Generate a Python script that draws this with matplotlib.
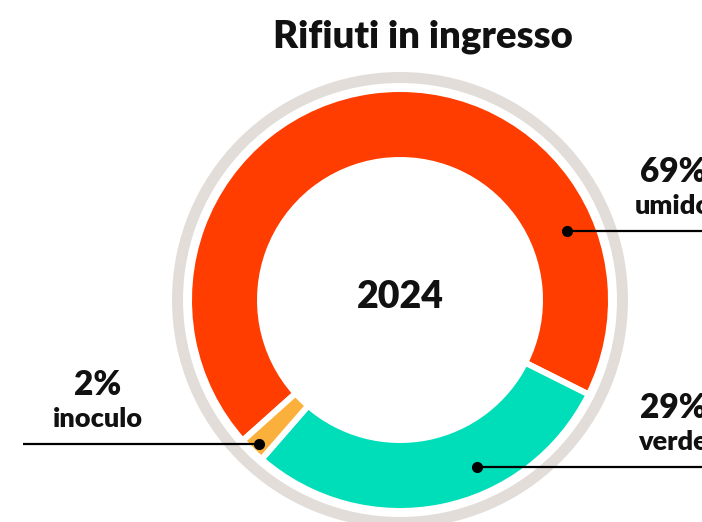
import matplotlib
matplotlib.use("Agg")
import matplotlib.pyplot as plt
from matplotlib.patches import Circle
import numpy as np

plt.rcParams['font.family'] = ['Lato', 'DejaVu Sans']

title = "Rifiuti in ingresso"
center_label = "2024"
categories = ["umido", "verde", "inoculo"]
values = [69, 29, 2]
pct_labels = ["69%", "29%", "2%"]
colors = ["#FF3D00", "#00DDB9", "#FBB03B"]

W, H = 702, 522
fig = plt.figure(figsize=(W / 100, H / 100), dpi=100)
ax = fig.add_axes([0, 0, 1, 1])

cx, cy = 400, H - 300
lw_px = 6
r_out = 208 + lw_px / 2
r_in = 143 - lw_px / 2

# outer grey ring
ax.add_patch(Circle((cx, cy), 222.5, fill=False, edgecolor="#E2DDD8", linewidth=11 * 0.72))

wedges, _ = ax.pie(values, colors=colors, startangle=221.8, counterclock=False,
                   radius=r_out, center=(cx, cy), frame=True,
                   wedgeprops=dict(width=r_out - r_in, edgecolor="white", linewidth=lw_px * 0.72))
ax.set_xlim(0, W)
ax.set_ylim(0, H)
ax.set_aspect('equal')
ax.axis('off')

ax.text(cx, cy + 3, center_label, ha='center', va='center', fontsize=27, fontweight='heavy', color='#111111')
fig.text(423 / W, 1 - 37 / H, title, ha='center', va='center', fontsize=27.5, fontweight='heavy', color='#111111')

# leader lines and labels
dot_pts = {"umido": (567, 231), "verde": (477, 467), "inoculo": (259, 444)}
line_end = {"umido": 720, "verde": 720, "inoculo": 23}
label_pos = {"umido": (673, 172, 206), "verde": (673, 408, 442), "inoculo": (98, 385, 419)}

for cat, pct in zip(categories, pct_labels):
    dx, dy = dot_pts[cat]
    ax.plot([dx, line_end[cat]], [H - dy, H - dy], color='black', linewidth=1.6, solid_capstyle='butt', clip_on=False)
    ax.plot([dx], [H - dy], 'o', color='black', markersize=7)
    lx, py1, py2 = label_pos[cat]
    ax.text(lx, H - py1, pct, ha='center', va='center', fontsize=24, fontweight='heavy', color='#111111')
    ax.text(lx, H - py2, cat, ha='center', va='center', fontsize=19.5, fontweight='heavy', color='#111111')

fig.savefig("out.png", dpi=100)
